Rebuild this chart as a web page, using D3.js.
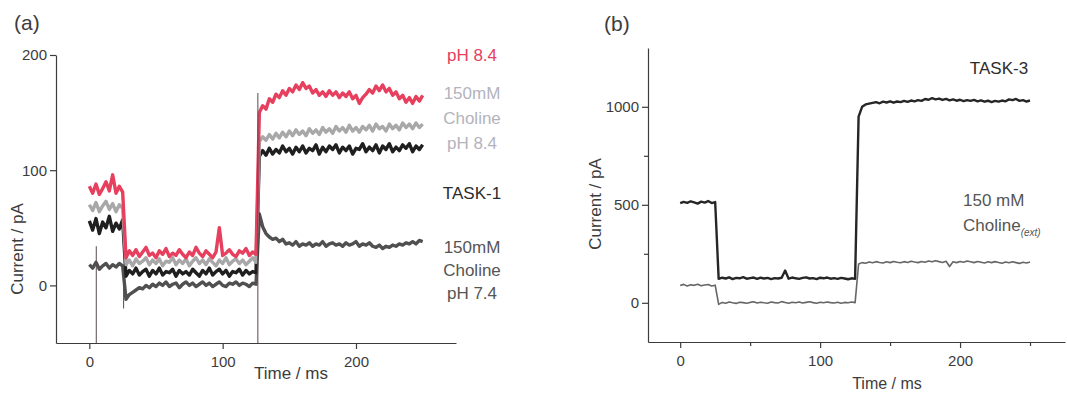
<!DOCTYPE html>
<html>
<head>
<meta charset="utf-8">
<script src="https://cdn.jsdelivr.net/npm/d3@7"></script>
<style>
  body { margin: 0; background: #fff; }
  svg text { font-family: "Liberation Sans", Arial, sans-serif; fill: #3c3c3c; }
  .axis path, .axis line { stroke: #3c3c3c; stroke-width: 1.2; }
  .trace { fill: none; stroke-linejoin: round; }
</style>
</head>
<body>
<svg id="chart" width="1067" height="394"></svg>
<script>
// sample times (ms), shared by every trace
const timeMs = [
  0, 2.5, 5, 7.5, 10, 12.5, 15, 17.5, 20, 22.5, 25,
  27.5, 30, 32.5, 35, 37.5, 40, 42.5, 45, 47.5, 50, 52.5, 55, 57.5, 60, 62.5, 65, 67.5, 70, 72.5, 75,
  77.5, 80, 82.5, 85, 87.5, 90, 92.5, 95, 97.5, 100, 102.5, 105, 107.5, 110, 112.5, 115, 117.5, 120, 122.5, 125,
  127.5, 130, 132.5, 135, 137.5, 140, 142.5, 145, 147.5, 150, 152.5, 155, 157.5, 160, 162.5, 165, 167.5, 170, 172.5, 175,
  177.5, 180, 182.5, 185, 187.5, 190, 192.5, 195, 197.5, 200, 202.5, 205, 207.5, 210, 212.5, 215, 217.5, 220, 222.5, 225,
  227.5, 230, 232.5, 235, 237.5, 240, 242.5, 245, 247.5, 250
];

// panel (a) TASK-1, current in pA
const task1Ph84 = [
  86, 80, 88, 79, 84, 90, 82, 96, 80, 86, 81,
  24, 30, 26, 31, 25, 29, 33, 26, 28, 24, 30, 27, 32, 25, 28, 26, 31, 27, 24, 29,
  26, 33, 28, 25, 30, 27, 24, 29, 50, 26, 28, 31, 27, 25, 30, 28, 32, 26, 29, 27,
  150, 156, 153, 162, 159, 166, 163, 169, 165, 171, 168, 174, 170, 176, 171, 173, 167, 170, 165, 168,
  164, 169, 165, 168, 163, 167, 164, 168, 162, 165, 158, 163, 166, 170, 167, 173, 169, 174, 168, 171,
  165, 168, 162, 165, 159, 163, 158, 164, 160, 165
];
const task1CholinePh84 = [
  70, 65, 72, 64, 69, 73, 66, 71, 64, 70, 67,
  18, 22, 17, 23, 19, 21, 24, 18, 22, 19, 23, 17, 21, 20, 24, 18, 22, 19, 23, 17,
  21, 24, 19, 22, 18, 23, 20, 17, 22, 19, 24, 18, 21, 23, 19, 22, 18, 21, 24, 20,
  125, 129, 126, 131, 127, 132, 128, 133, 129, 134, 130, 135, 131, 134, 130, 136, 132, 135, 131, 137,
  133, 136, 132, 138, 134, 137, 133, 139, 134, 137, 133, 138, 135, 139, 134, 140, 136, 138, 134, 140,
  136, 139, 135, 141, 137, 140, 136, 141, 137, 140
];
const task1Control = [
  56, 48, 58, 45, 55, 50, 60, 47, 54, 49, 57,
  8, 13, 10, 15, 9, 12, 14, 8, 13, 10, 15, 9, 12, 11, 14, 8, 13, 10, 12, 9,
  14, 11, 8, 13, 10, 15, 9, 12, 14, 10, 13, 8, 12, 11, 14, 9, 13, 10, 12, 11,
  112, 117, 113, 119, 114, 118, 115, 121, 116, 119, 114, 120, 116, 121, 115, 119, 117, 122, 114, 120,
  116, 121, 118, 122, 115, 120, 117, 121, 114, 119, 118, 123, 116, 120, 117, 122, 115, 121, 118, 123,
  116, 120, 117, 122, 119, 123, 116, 121, 118, 122
];
const task1CholinePh74 = [
  18, 15, 20, 14, 17, 19, 15, 18, 16, 19, 17,
  -12, -8, -6, -4, -2, -3, 0, -2, 1, -1, 2, 0, 3, -1, 1, 2, -2, 1, 3, 0,
  2, -1, 1, 3, 0, 2, -1, 1, 3, 0, -1, 2, 1, 3, 0, 2, 1, -1, 2, 1,
  62, 51, 45, 42, 40, 41, 38, 40, 36, 37, 35, 38, 34, 36, 35, 37, 34, 36, 35, 38,
  34, 36, 37, 35, 36, 34, 37, 35, 36, 38, 34, 36, 35, 37, 34, 33, 35, 32, 34, 33,
  35, 34, 36, 35, 37, 36, 38, 36, 39, 38
];
// capacitive spikes: [time, low, high]
const spikesA = [[5.2, -50, 34], [25.7, -20, 18], [126.4, -50, 167]];

// panel (b) TASK-3, current in pA
const task3Control = [
  508, 515, 510, 518, 512, 506, 516, 511, 519, 509, 514,
  122, 128, 124, 130, 121, 127, 125, 131, 123, 126, 129, 122, 128, 124, 127, 121, 126, 124, 128, 165,
  123, 129, 125, 122, 127, 130, 124, 126, 121, 128, 125, 129, 123, 126, 122, 127, 124, 120, 125, 122,
  950, 1000, 1012, 1016, 1020, 1024, 1018, 1026, 1022, 1028, 1021, 1027, 1024, 1030, 1025, 1032, 1028, 1034, 1030, 1040,
  1036, 1044, 1038, 1042, 1035, 1040, 1033, 1038, 1031, 1036, 1029, 1034, 1030, 1035, 1028, 1033, 1026, 1031, 1024, 1030,
  1026, 1032, 1028, 1038, 1034, 1040, 1030, 1034, 1027, 1032
];
const task3CholineExt = [
  88, 94, 86, 92, 89, 95, 87, 91, 93, 86, 90,
  -8, 2, -2, 4, 0, -3, 3, 1, -2, 2, 5, -1, 3, 0, -2, 4, 1, -1, 6, 2,
  -2, 3, 0, 4, -1, 2, 5, 1, -2, 3, 0, 4, 1, -1, 3, -2, 2, 0, 4, 1,
  198, 205, 202, 208, 204, 210, 206, 203, 209, 205, 211, 207, 204, 210, 206, 212, 208, 205, 211, 207,
  213, 209, 215, 210, 206, 212, 185, 209, 205, 211, 207, 213, 209, 205, 211, 207, 203, 209, 205, 210,
  206, 202, 208, 204, 209, 205, 201, 207, 203, 208
];

const xTicks = [0, 100, 200];
const xMinorTicks = [50, 150, 250];
const yTicksA = [0, 100, 200];
const yTicksB = [0, 500, 1000];
const yMinorTicksB = [250, 750];

const svg = d3.select('#chart');

function drawPanel(p) {
  const x = d3.scaleLinear().domain(p.xDomain).range(p.xRange);
  const y = d3.scaleLinear().domain(p.yDomain).range(p.yRange);
  const g = svg.append('g');

  g.append('g').attr('class', 'axis')
    .attr('transform', 'translate(0,' + p.yRange[0] + ')')
    .call(d3.axisBottom(x).tickValues(xTicks).tickFormat(d3.format('d'))
      .tickSize(6).tickSizeOuter(0).tickPadding(7));
  g.append('g').attr('class', 'axis')
    .attr('transform', 'translate(' + p.xRange[0] + ',0)')
    .call(d3.axisLeft(y).tickValues(p.yTicks).tickFormat(d3.format('d'))
      .tickSize(6).tickSizeOuter(0).tickPadding(3));

  if (p.minor) {
    g.append('g').attr('class', 'axis')
      .attr('transform', 'translate(0,' + p.yRange[0] + ')')
      .call(d3.axisBottom(x).tickValues(xMinorTicks).tickSize(4).tickFormat(''))
      .select('.domain').remove();
    g.append('g').attr('class', 'axis')
      .attr('transform', 'translate(' + p.xRange[0] + ',0)')
      .call(d3.axisLeft(y).tickValues(yMinorTicksB).tickSize(4).tickFormat(''))
      .select('.domain').remove();
  }

  g.selectAll('.axis text')
    .style('font-size', '15px')
    .style('fill', '#3c3c3c');

  const line = d3.line()
    .defined((d) => d[1] !== undefined)
    .x((d) => x(d[0]))
    .y((d) => y(d[1]));

  p.traces.forEach((t) => {
    g.append('path')
      .attr('class', 'trace')
      .attr('d', line(d3.zip(timeMs, t.values)))
      .attr('stroke', t.color)
      .attr('stroke-width', t.width);
  });

  (p.spikes || []).forEach((s) => {
    g.append('line')
      .attr('x1', x(s[0])).attr('x2', x(s[0]))
      .attr('y1', y(s[1])).attr('y2', y(s[2]))
      .attr('stroke', '#5a4a4e').attr('stroke-width', 1);
  });

  g.append('text')
    .attr('x', p.panelLabel[1]).attr('y', p.panelLabel[2])
    .style('font-size', '21px')
    .text(p.panelLabel[0]);

  g.append('text')
    .attr('transform', 'translate(' + p.yTitle[0] + ',' + p.yTitle[1] + ') rotate(-90)')
    .attr('text-anchor', 'middle')
    .style('font-size', '17px')
    .text('Current / pA');

  g.append('text')
    .attr('x', p.xTitle[0]).attr('y', p.xTitle[1])
    .attr('text-anchor', 'middle')
    .style('font-size', p.xTitle[2] + 'px')
    .text('Time / ms');

  p.notes.forEach((n) => {
    const t = g.append('text')
      .attr('x', n.x).attr('y', n.y)
      .attr('text-anchor', n.anchor || 'middle')
      .style('font-size', '17px')
      .style('fill', n.color)
      .text(n.text);
    if (n.sub) {
      t.append('tspan')
        .attr('dy', 5)
        .style('font-size', '10px')
        .style('font-style', 'italic')
        .text(n.sub);
    }
  });
}

drawPanel({
  xDomain: [-25, 275], xRange: [56, 456],
  yDomain: [-50, 200], yRange: [343, 55],
  yTicks: yTicksA,
  minor: false,
  traces: [
    { values: task1CholinePh74, color: '#505050', width: 3.4 },
    { values: task1Control, color: '#1f1f1f', width: 3.4 },
    { values: task1CholinePh84, color: '#a8a8a8', width: 3.4 },
    { values: task1Ph84, color: '#e6405e', width: 3.4 }
  ],
  spikes: spikesA,
  panelLabel: ['(a)', 14, 30],
  yTitle: [23, 249],
  xTitle: [291, 379, 17],
  notes: [
    { text: 'pH 8.4', x: 472, y: 61, color: '#e6405e' },
    { text: '150mM', x: 472, y: 99, color: '#b4b3bd' },
    { text: 'Choline', x: 472, y: 124, color: '#b4b3bd' },
    { text: 'pH 8.4', x: 472, y: 149, color: '#b4b3bd' },
    { text: 'TASK-1', x: 472, y: 199, color: '#2c2c2c' },
    { text: '150mM', x: 472, y: 253, color: '#555555' },
    { text: 'Choline', x: 472, y: 276, color: '#555555' },
    { text: 'pH 7.4', x: 472, y: 299, color: '#555555' }
  ]
});

drawPanel({
  xDomain: [-23, 275], xRange: [648, 1065],
  yDomain: [-200, 1300], yRange: [342, 48],
  yTicks: yTicksB,
  minor: true,
  traces: [
    { values: task3CholineExt, color: '#666666', width: 1.6 },
    { values: task3Control, color: '#262626', width: 2.4 }
  ],
  spikes: [],
  panelLabel: ['(b)', 604, 31],
  yTitle: [601, 204],
  xTitle: [887, 389, 16],
  notes: [
    { text: 'TASK-3', x: 999, y: 74, color: '#2c2c2c' },
    { text: '150 mM', x: 963, y: 206, color: '#555555', anchor: 'start' },
    { text: 'Choline', x: 963, y: 231, color: '#555555', anchor: 'start', sub: '(ext)' }
  ]
});
</script>
</body>
</html>
